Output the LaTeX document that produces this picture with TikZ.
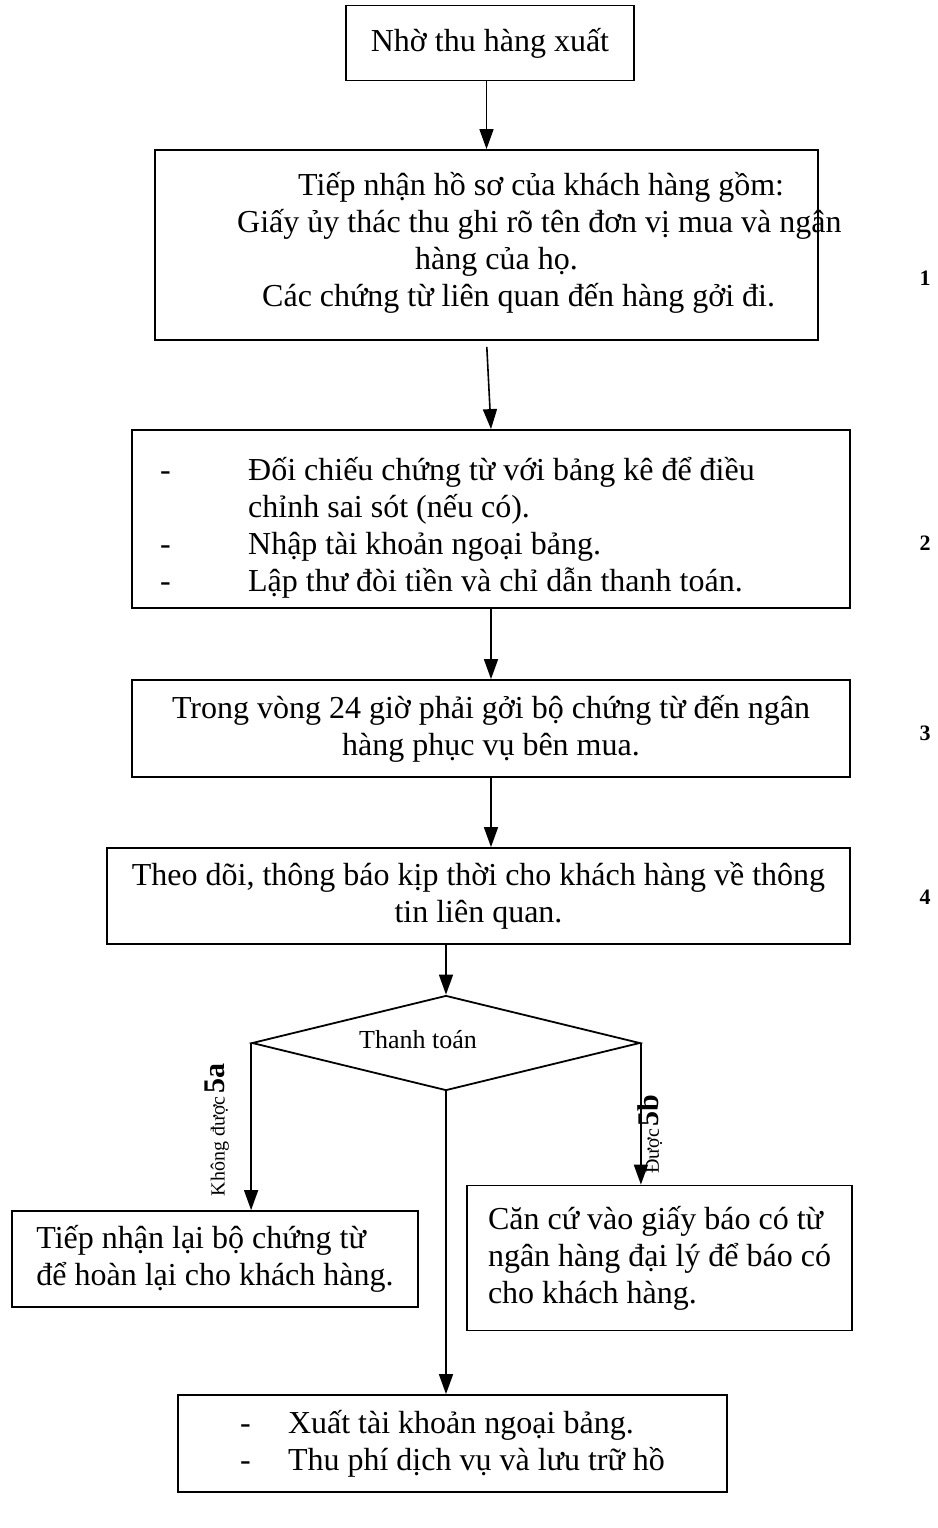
\documentclass[tikz,border=0pt]{standalone}
\usepackage{fontspec}
\setmainfont{Liberation Serif}
\usetikzlibrary{arrows.meta,shapes.geometric}

\newcommand\dashline[2][88pt]{\makebox[#1][l]{-}#2}

\tikzset{
  box/.style={draw, line width=1.8pt, inner sep=0pt, align=center,
    font=\fontsize{32}{37}\selectfont},
  txt/.style={inner sep=0pt, align=left, font=\fontsize{32}{37}\selectfont},
  arr/.style={-{Triangle[length=20pt,width=14pt]}, line width=1.6pt},
  num/.style={inner sep=0pt, font=\fontsize{22}{26}\selectfont\bfseries},
}

\begin{document}
\begin{tikzpicture}[x=1pt, y=-1pt]
		\useasboundingbox (0,0) rectangle (937,1528);
		% steps
		\node[box, minimum width=288pt, minimum height=75pt] (start) at (490,43) {Nhờ thu hàng xuất};
		\node[box, minimum width=663pt, minimum height=190pt] (receive) at (486.5,245) {};
		\node[txt, anchor=west] (receivetxt) at (237,243) {\hspace*{61pt}Tiếp nhận hồ sơ của khách hàng gồm:\\
			Giấy ủy thác thu ghi rõ tên đơn vị mua và ngân\\
			\hspace*{178pt}hàng của họ.\\
			\hspace*{25pt}Các chứng từ liên quan đến hàng gởi đi.};
		\node[box, minimum width=718pt, minimum height=178pt] (check) at (491,519) {};
		\node[txt, anchor=west] (checktxt) at (160,528) {\dashline{Đối chiếu chứng từ với bảng kê để điều}\\
			\hspace*{88pt}chỉnh sai sót (nếu có).\\
			\dashline{Nhập tài khoản ngoại bảng.}\\
			\dashline{Lập thư đòi tiền và chỉ dẫn thanh toán.}};
		\node[box, minimum width=718pt, minimum height=97pt] (send) at (491,728.5) {Trong vòng 24 giờ phải gởi bộ chứng từ đến ngân\\hàng phục vụ bên mua.};
		\node[box, minimum width=743pt, minimum height=96pt] (follow) at (478.5,896) {Theo dõi, thông báo kịp thời cho khách hàng về thông\\tin liên quan.};
		% decision
		\node[draw, line width=1.8pt, diamond, aspect=4.08, inner sep=0pt,
			minimum width=388pt, minimum height=95pt] (pay) at (446,1043) {};
		\node[inner sep=0pt, font=\fontsize{26}{30}\selectfont] (paytxt) at (418,1040) {Thanh toán};
		\node[box, align=left, minimum width=406pt, minimum height=96pt] (refuse) at (215,1259) {Tiếp nhận lại bộ chứng từ\\để hoàn lại cho khách hàng.};
		\node[box, align=left, minimum width=385pt, minimum height=145pt] (accept) at (659.5,1258) {Căn cứ vào giấy báo có từ\\ngân hàng đại lý để báo có\\cho khách hàng.};
		\node[box, align=left, minimum width=549pt, minimum height=97pt] (close) at (452.5,1443.5) {\dashline[48pt]{Xuất tài khoản ngoại bảng.}\\
			\dashline[48pt]{Thu phí dịch vụ và lưu trữ hồ}};
		% step numbers
		\foreach \n/\y in {1/278, 2/543, 3/733, 4/897}
			\node[num] (num\n) at (925,\y) {\n};
		\node[rotate=90, inner sep=0pt] (nolbl) at (217,1130) {{\fontsize{20}{22}\selectfont Không được} {\fontsize{30}{32}\selectfont\bfseries 5a}};
		\node[rotate=90, inner sep=0pt] (yeslbl) at (650,1134) {{\fontsize{20}{22}\selectfont Được} {\fontsize{30}{32}\selectfont\bfseries 5b}};
		% arrows
		\draw[arr] (receive.north |- start.south) -- (receive.north);
		\draw[arr, shorten <=6pt] (receive.south) -- (check.north);
		\draw[arr] (check.south) -- (send.north);
		\draw[arr] (send.south) -- (send.south |- follow.north);
		\draw[arr] (pay.north |- follow.south) -- (pay.north);
		\draw[arr] (pay.west) -- (pay.west |- refuse.north);
		\draw[arr] (pay.east) -- (pay.east |- accept.north);
		\draw[arr] (pay.south) -- (pay.south |- close.north);
		
	\end{tikzpicture}
\end{document}
